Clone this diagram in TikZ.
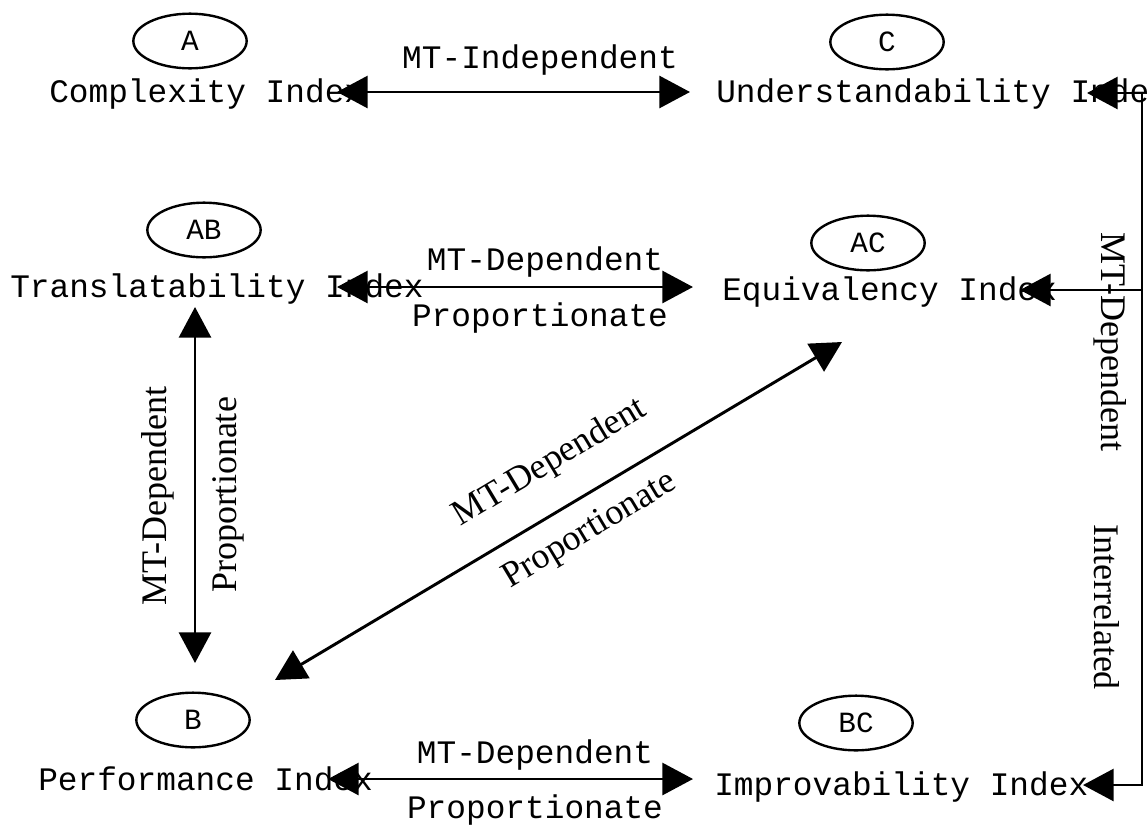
\documentclass[tikz,border=0pt]{standalone}
\usepackage{fontspec}
\setmainfont{Liberation Serif}
\setmonofont{Liberation Mono}
\usetikzlibrary{arrows.meta,shapes,positioning}
\tikzstyle{idx}=[inner sep=0pt, anchor=base west, font=\fontsize{24.6}{28}\ttfamily]
\tikzstyle{oval}=[draw, ellipse, line width=1.8pt, minimum width=85pt,
minimum height=41pt, inner sep=0pt, font=\fontsize{22}{26}\ttfamily]
\tikzstyle{myarrow}=[{Triangle[length=23pt,width=24pt]}-{Triangle[length=23pt,width=24pt]}, line width=2.2pt]
\tikzstyle{lbl}=[inner sep=0pt, font=\fontsize{24.6}{28}\ttfamily]
\tikzstyle{rlbl}=[inner sep=0pt, font=\fontsize{27}{30}\rmfamily]

\begin{document}
\begin{tikzpicture}[x=0.75pt, y=-0.75pt]

    \useasboundingbox (0,0) rectangle (1148,829);
    \clip (0,0) rectangle (1148,829);

    % letters
    \node[oval] (A) at (190,41) {A};
    \node[oval] (C) at (887,42) {C};
    \node[oval] (AB) at (204,230) {AB};
    \node[oval] (AC) at (868,243) {AC};
    \node[oval] (B) at (193,720) {B};
    \node[oval] (BC) at (856,723) {BC};

    % indices
    \node[idx] (cplx) at (49,102) {Complexity Index};
    \node[idx] (under) at (716,102) {Understandability Index};
    \node[idx] (trans) at (10,297) {Translatability Index};
    \node[idx] (equiv) at (722,300) {Equivalency Index};
    \node[idx] (perf) at (38,790) {Performance Index};
    \node[idx] (impr) at (714,795) {Improvability Index};

    % arrow ends
    \coordinate (cplx-e) at (337,92);
    \coordinate (under-w) at (690,92);
    \coordinate (trans-e) at (337,287);
    \coordinate (equiv-w) at (693,287);
    \coordinate (perf-e) at (328,779);
    \coordinate (impr-w) at (693,779);
    \coordinate (trans-s) at (195,307);
    \coordinate (perf-n) at (195,663);
    \coordinate (perf-ne) at (275,680);
    \coordinate (equiv-sw) at (842,342);
    \coordinate (under-e) at (1087,93);
    \coordinate (equiv-e) at (1020,290);
    \coordinate (impr-e) at (1083,785);
    \coordinate (rtop) at (1142,93);
    \coordinate (rmid) at (1142,290);
    \coordinate (rbot) at (1142,785);

    \draw[myarrow] (cplx-e) -- (under-w);
    \node[lbl] (l1) at (540,60) {MT-Independent};

    \draw[myarrow] (trans-e) -- (equiv-w);
    \node[lbl] (l2) at (545,262) {MT-Dependent};
    \node[lbl] (l3) at (540,318) {Proportionate};

    \draw[myarrow] (perf-e) -- (impr-w);
    \node[lbl] (l4) at (535,755) {MT-Dependent};
    \node[lbl] (l5) at (535,810) {Proportionate};

    \draw[myarrow] (trans-s) -- (perf-n);
    \node[rlbl, rotate=90] (l6) at (158,496) {MT-Dependent};
    \node[rlbl, rotate=90] (l7) at (228,495) {Proportionate};

    \draw[myarrow] (perf-ne) -- (equiv-sw);
    \node[rlbl, rotate=31] (l8) at (550,463) {MT-Dependent};
    \node[rlbl, rotate=31] (l9) at (590,531) {Proportionate};

    \draw[myarrow] (under-e) -- (rtop) -- (rbot) -- (impr-e);
    \draw[myarrow, {Triangle[length=23pt,width=24pt]}-] (equiv-e) -- (rmid);
    \node[rlbl, rotate=-90] (l10) at (1110,342) {MT-Dependent};
    \node[rlbl, rotate=-90] (l11) at (1107,607) {Interrelated};

\end{tikzpicture}
\end{document}
